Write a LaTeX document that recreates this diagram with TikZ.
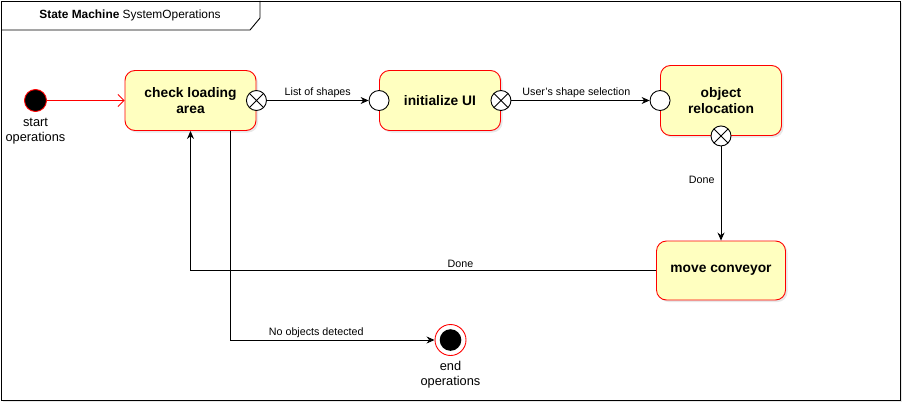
\documentclass[tikz,border=0pt]{standalone}
\usepackage{fontspec}
\setmainfont{Liberation Sans}
\usepackage{tikz}
\usetikzlibrary{arrows.meta, positioning, shadows}
\definecolor{statefill}{HTML}{FFFFC0}

\begin{document}
\begin{tikzpicture}[x=1pt, y=-1pt, line width=0.9pt]
\tikzstyle{sm_shadow}=[drop shadow={opacity=0.18, shadow xshift=2pt, shadow yshift=-2pt}]
\tikzstyle{sm_state}=[rectangle, rounded corners=10pt, draw=red, fill=statefill, sm_shadow,
	align=center, inner sep=0pt, font=\fontsize{13.8}{16}\selectfont\bfseries]
\tikzstyle{sm_entry}=[circle, draw, fill=white, minimum size=20pt, inner sep=0pt]
\tikzstyle{sm_exit}=[sm_entry, path picture={
	\draw (path picture bounding box.north west) -- (path picture bounding box.south east)
	(path picture bounding box.north east) -- (path picture bounding box.south west);}]
\tikzstyle{sm_start}=[circle, draw=red, fill=black, minimum size=22pt, inner sep=0pt]
\tikzstyle{sm_end}=[circle, draw=red, fill=white, minimum size=31pt, inner sep=0pt,
	path picture={\fill[black] (path picture bounding box.center) circle (10.8pt);}]
\tikzstyle{sm_pseudo}=[align=center, inner sep=0pt, font=\fontsize{12.8}{14.8}\selectfont]
\tikzstyle{sm_label}=[fill=white, inner sep=1pt, font=\fontsize{10.7}{12}\selectfont]
\tikzstyle{sm_flow}=[-{Stealth[length=8pt, width=7pt]}]

\useasboundingbox (0,0) rectangle (912,412);
\draw[fill=white, sm_shadow] (1,1) rectangle (900,400);
\draw (1,30) -- (250,30) -- (260,18) -- (260,1);
\node (title) at (130,15.5) {\fontsize{11.9}{14}\selectfont\textbf{State Machine} SystemOperations};

\node (start) at (35.5,100.5) [sm_start] {};
\node (startlbl) [sm_pseudo, below=6pt of start] {start\\operations};

\node (check) at (190.5,100.5) [sm_state, minimum width=131pt, minimum height=60pt] {check loading\\area};
\node (init) at (440,100.5) [sm_state, minimum width=121pt, minimum height=60pt] {initialize UI};
\node (reloc) at (721,100.5) [sm_state, minimum width=121pt, minimum height=70pt] {object\\relocation};
\node (conveyor) at (721,270.5) [sm_state, minimum width=129pt, minimum height=59pt] {move conveyor};

\node (checkout) at (check.east) [sm_exit] {};
\node (initin) at (init.west) [sm_entry] {};
\node (initout) at (init.east) [sm_exit] {};
\node (relocin) at (reloc.west) [sm_entry] {};
\node (relocout) at (reloc.south) [sm_exit] {};

\node (finish) at (450.5,340) [sm_end] {};
\node (finishlbl) [sm_pseudo, below=5pt of finish] {end\\operations};

\draw[red, line width=0.8pt, -{Straight Barb[length=6pt, width=12pt]}] (start) -- (check);
\draw[sm_flow] (checkout) -- node[sm_label, above=1pt] {List of shapes} (initin);
\draw[sm_flow] (initout) -- node[sm_label, above=1pt, pos=0.47] {User's shape selection} (relocin);
\draw[sm_flow] (relocout) -- node[sm_label, left=5pt, pos=0.36] {Done} (conveyor);
\draw[sm_flow] (conveyor) -| node[sm_label, above=1pt, pos=0.21] {Done} (check);
\draw[sm_flow] ([xshift=40pt]check.south) |- node[sm_label, above=1pt, pos=0.71] {No objects detected} (finish);

\end{tikzpicture}
\end{document}
